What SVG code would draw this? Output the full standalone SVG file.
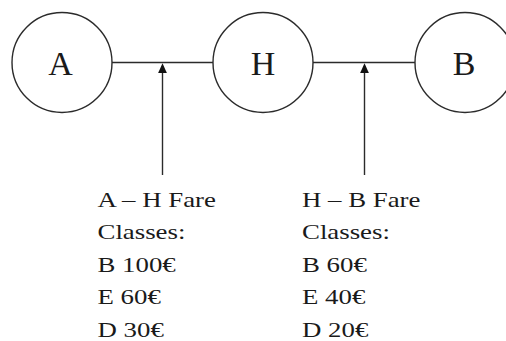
<svg xmlns="http://www.w3.org/2000/svg" width="506" height="341" viewBox="0 0 506 341">
  <defs>
    <style>
      .node circle { fill: #ffffff; stroke: #2b2b2b; stroke-width: 1.4; }
      .node text { font-family: "Liberation Serif", "Times New Roman", serif; font-size: 34px; fill: #1a1a1a; text-anchor: middle; }
      .link { stroke: #2b2b2b; stroke-width: 1.4; fill: none; }
      .pointer { marker-end: url(#tip); }
      .fare text { font-family: "Liberation Serif", "Times New Roman", serif; font-size: 22px; fill: #1a1a1a; }
    </style>
    <!-- filled arrowhead; tip sits 2.7 units beyond the line end -->
    <marker id="tip" viewBox="0 0 10 9" refX="7.3" refY="4.5" markerWidth="10" markerHeight="9" markerUnits="userSpaceOnUse" orient="auto">
      <path d="M0,0 L10,4.5 L0,9 Z" fill="#111111"/>
    </marker>
  </defs>

  <!-- route legs and fare pointers -->
  <g id="connectors">
    <line class="link" x1="112" y1="62.5" x2="213" y2="62.5"/>
    <line class="link" x1="313" y1="62.5" x2="415" y2="62.5"/>
    <line class="link pointer" x1="162.5" y1="175" x2="162.5" y2="66"/>
    <line class="link pointer" x1="364.5" y1="175" x2="364.5" y2="66"/>
  </g>

  <g id="node-A" class="node">
    <circle cx="62" cy="62.5" r="50"/>
    <text x="60.5" y="75">A</text>
  </g>
  <g id="node-H" class="node">
    <circle cx="263" cy="62.5" r="50"/>
    <text x="263" y="75">H</text>
  </g>
  <g id="node-B" class="node">
    <circle cx="465" cy="62.5" r="50"/>
    <text x="464" y="75">B</text>
  </g>

  <!-- fare class tables, set slightly wide -->
  <g id="fares-AH" class="fare" transform="translate(97.5,0) scale(1.22,1)">
    <text x="0" y="207">A – H Fare</text>
    <text x="0" y="239.5">Classes:</text>
    <text x="0" y="272">B 100€</text>
    <text x="0" y="304.5">E 60€</text>
    <text x="0" y="337">D 30€</text>
  </g>
  <g id="fares-HB" class="fare" transform="translate(302,0) scale(1.22,1)">
    <text x="0" y="207">H – B Fare</text>
    <text x="0" y="239.5">Classes:</text>
    <text x="0" y="272">B 60€</text>
    <text x="0" y="304.5">E 40€</text>
    <text x="0" y="337">D 20€</text>
  </g>
</svg>
